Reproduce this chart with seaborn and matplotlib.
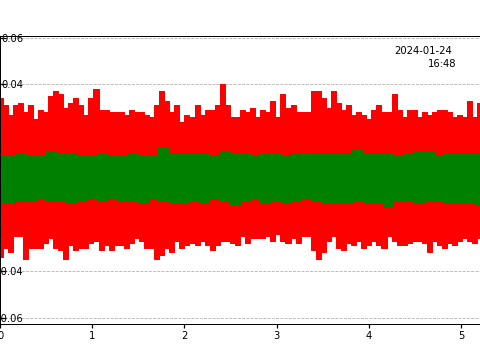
import numpy as np
import pandas as pd
import seaborn as sns
import matplotlib.pyplot as plt

# -----------------------------
# Data (envelopes, in counts)
# -----------------------------
x_max = 5.206

red_upper = [
    0.034, 0.031, 0.027, 0.031, 0.032, 0.028, 0.031, 0.025, 0.029, 0.028, 0.035, 0.037,
    0.036, 0.030, 0.032, 0.034, 0.031, 0.027, 0.034, 0.038, 0.029, 0.029, 0.028, 0.028,
    0.028, 0.027, 0.029, 0.028, 0.028, 0.027, 0.026, 0.031,
    0.037, 0.033, 0.028, 0.031, 0.024, 0.027, 0.026, 0.031, 0.027, 0.029, 0.029, 0.031,
    0.040, 0.031, 0.026, 0.026, 0.029, 0.028, 0.030, 0.026, 0.029, 0.028, 0.033, 0.026,
    0.036, 0.030, 0.031, 0.028, 0.028, 0.028, 0.037, 0.037,
    0.034, 0.030, 0.037, 0.032, 0.029, 0.031, 0.027, 0.028, 0.027, 0.025, 0.029, 0.031,
    0.028, 0.028, 0.036, 0.029, 0.026, 0.029, 0.029, 0.026, 0.028, 0.027, 0.028, 0.029,
    0.029, 0.028, 0.026, 0.027, 0.026, 0.033, 0.026, 0.032,
]
red_lower = [
    -0.034, -0.030, -0.032, -0.025, -0.025, -0.035, -0.030, -0.030, -0.030, -0.028, -0.026, -0.030,
    -0.031, -0.035, -0.029, -0.031, -0.030, -0.030, -0.028, -0.027, -0.031, -0.029, -0.031, -0.029,
    -0.029, -0.030, -0.028, -0.026, -0.027, -0.030, -0.030, -0.035,
    -0.033, -0.030, -0.032, -0.027, -0.030, -0.029, -0.028, -0.029, -0.027, -0.029, -0.031, -0.029,
    -0.027, -0.027, -0.028, -0.029, -0.025, -0.028, -0.026, -0.026, -0.026, -0.025, -0.027, -0.024,
    -0.027, -0.028, -0.026, -0.028, -0.025, -0.025, -0.031, -0.035,
    -0.032, -0.027, -0.025, -0.030, -0.031, -0.028, -0.029, -0.027, -0.030, -0.029, -0.027, -0.029,
    -0.030, -0.025, -0.027, -0.029, -0.029, -0.028, -0.027, -0.027, -0.028, -0.032, -0.027, -0.029,
    -0.030, -0.028, -0.029, -0.027, -0.026, -0.027, -0.028, -0.026,
]
green_upper = [
    0.0096, 0.0096, 0.0100, 0.0096, 0.0092, 0.0110, 0.0100, 0.0106, 0.0096, 0.0092, 0.0106, 0.0096,
    0.0096, 0.0100, 0.0092, 0.0092, 0.0125, 0.0100, 0.0106, 0.0106, 0.0100, 0.0096, 0.0110, 0.0106,
    0.0100, 0.0096, 0.0100, 0.0100, 0.0096, 0.0106, 0.0106, 0.0100, 0.0100, 0.0106, 0.0100, 0.0117,
    0.0103, 0.0100, 0.0100, 0.0096, 0.0103, 0.0110, 0.0110, 0.0096, 0.0100, 0.0100, 0.0100, 0.0103,
]
green_lower = [
    -0.0103, -0.0110, -0.0099, -0.0096, -0.0093, -0.0099, -0.0096, -0.0103, -0.0099, -0.0093, -0.0096, -0.0093,
    -0.0099, -0.0096, -0.0103, -0.0093, -0.0099, -0.0103, -0.0110, -0.0099, -0.0103, -0.0093, -0.0099, -0.0113,
    -0.0096, -0.0093, -0.0103, -0.0096, -0.0103, -0.0099, -0.0093, -0.0096, -0.0110, -0.0103, -0.0110, -0.0099,
    -0.0103, -0.0108, -0.0125, -0.0096, -0.0099, -0.0103, -0.0096, -0.0099, -0.0110, -0.0108, -0.0108, -0.0117,
]

y_ticks = [-0.06, -0.04, -0.02, 0.0, 0.02, 0.04, 0.06]
x_ticks = [0, 1, 2, 3, 4, 5]
stamp_date = "2024-01-24"
stamp_time = "16:48"

t_red = np.linspace(0, x_max, len(red_upper))
t_green = np.linspace(0, x_max, len(green_upper))

df = pd.concat([
    pd.DataFrame({"t": t_red, "v": red_upper, "trace": "red_up"}),
    pd.DataFrame({"t": t_red, "v": red_lower, "trace": "red_lo"}),
    pd.DataFrame({"t": t_green, "v": green_upper, "trace": "green_up"}),
    pd.DataFrame({"t": t_green, "v": green_lower, "trace": "green_lo"}),
])

# -----------------------------
# Plot
# -----------------------------
sns.set_theme(style="ticks")
plt.rcParams["font.family"] = ["DejaVu Sans"]
plt.rcParams["font.size"] = 10

fig = plt.figure(figsize=(480 / 72, 360 / 72), dpi=72)
ax = fig.add_axes([0, 0.1, 1, 0.8])

palette = {"red_up": "#ff0000", "red_lo": "#ff0000",
           "green_up": "#008000", "green_lo": "#008000"}
sns.lineplot(data=df, x="t", y="v", hue="trace", palette=palette,
             drawstyle="steps-mid", linewidth=1, legend=False, ax=ax, zorder=2.7)

ax.fill_between(t_red, red_lower, red_upper, step="mid",
                color="#ff0000", linewidth=0, zorder=2.7)
ax.fill_between(t_green, green_lower, green_upper, step="mid",
                color="#008000", linewidth=0, zorder=2.8)
for line in ax.lines:
    if line.get_color() == "#008000" or tuple(line.get_color()[:3]) == (0, 0.5019607843137255, 0):
        line.set_zorder(2.8)

ax.set_xlim(0, x_max)
ax.set_ylim(-0.0627, 0.0607)
ax.set_xticks(x_ticks)
ax.set_yticks(y_ticks)
ax.set_yticklabels([f"{v:.2f}" for v in y_ticks])
ax.set_xlabel("")
ax.set_ylabel("")

ax.grid(axis="y", linestyle="--", color="#b0b0b0", linewidth=0.8)
ax.tick_params(axis="y", direction="in", pad=-23, labelsize=10, colors="black")
ax.tick_params(axis="x", direction="out", length=3.5, labelsize=10, colors="black")

for side in ["left", "top", "bottom"]:
    ax.spines[side].set_visible(True)
    ax.spines[side].set_color("black")
    ax.spines[side].set_linewidth(1.0)
    ax.spines[side].set_zorder(3)
ax.spines["right"].set_visible(False)

ax.text(452 / 480, 0.947, stamp_date, transform=ax.transAxes,
        ha="right", va="center", fontsize=10, color="black")
ax.text(456 / 480, 0.902, stamp_time, transform=ax.transAxes,
        ha="right", va="center", fontsize=10, color="black")

plt.savefig("out.png", dpi=72)
